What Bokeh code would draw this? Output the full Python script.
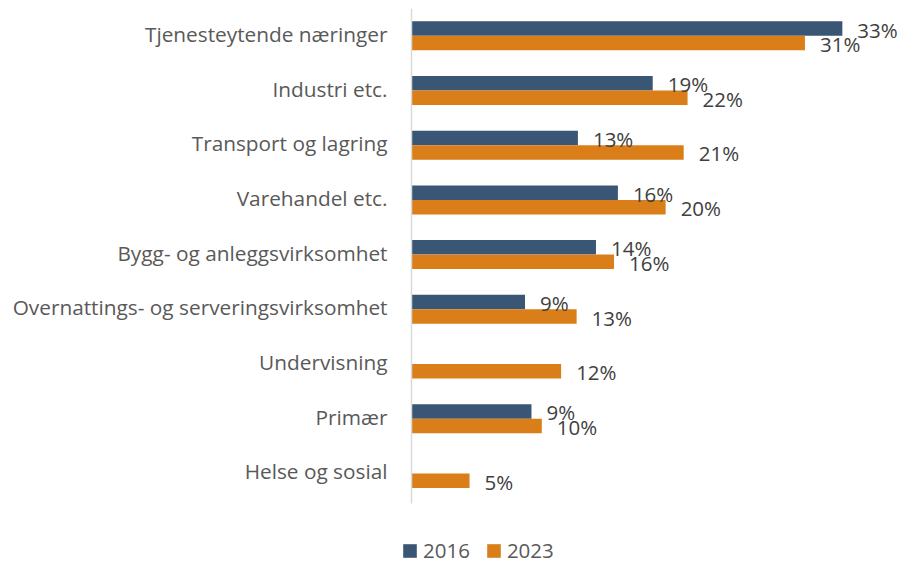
from bokeh.plotting import figure
from bokeh.models import ColumnDataSource, Range1d, Legend, LegendItem, FixedTicker
from bokeh.core.properties import value
from bokeh.embed import file_html
from bokeh.resources import INLINE

categories = ["Tjenesteytende næringer", "Industri etc.", "Transport og lagring",
              "Varehandel etc.", "Bygg- og anleggsvirksomhet",
              "Overnattings- og serveringsvirksomhet", "Undervisning", "Primær",
              "Helse og sosial"]
values_2016 = [33.4, 18.7, 12.9, 16.0, 14.3, 8.8, 0.0, 9.3, 0.0]
values_2023 = [30.5, 21.4, 21.1, 19.7, 15.7, 12.8, 11.6, 10.1, 4.5]
labels_2016 = ["33%", "19%", "13%", "16%", "14%", "9%", "", "9%", ""]
labels_2023 = ["31%", "22%", "21%", "20%", "16%", "13%", "12%", "10%", "5%"]
series = ["2016", "2023"]

C16 = "#3A5675"
C23 = "#D97E18"
FONT = "Open Sans"

n = len(categories)
idx = list(range(n))
off = 0.1325
src = ColumnDataSource(data=dict(
    y16=[i - off for i in idx], y23=[i + off for i in idx],
    v16=values_2016, v23=values_2023, l16=labels_2016, l23=labels_2023))

PX_PER_UNIT = 12.9          # pixels per percentage point
FRAME_W = 899 - 401
x_start = -10 / PX_PER_UNIT
x_end = x_start + FRAME_W / PX_PER_UNIT
ROW_PX = 54.7
FRAME_TOP = 8
FRAME_H = 565 - FRAME_TOP
y_top = -0.5 - (35.3 - 0.5 * ROW_PX - FRAME_TOP) / ROW_PX
y_bottom = y_top + FRAME_H / ROW_PX

p = figure(x_range=Range1d(x_start, x_end), y_range=Range1d(y_bottom, y_top),
           width=899, height=565, output_backend="svg", toolbar_location=None,
           min_border_left=401, min_border_right=0, min_border_top=FRAME_TOP,
           min_border_bottom=0)

r16 = p.hbar(y="y16", right="v16", left=0, height=0.265, source=src,
             fill_color=C16, line_color=None)
r23 = p.hbar(y="y23", right="v23", left=0, height=0.265, source=src,
             fill_color=C23, line_color=None)

# category axis line at x = 0 spanning the category rows
p.segment(x0=[0], x1=[0], y0=[y_top], y1=[n - 0.45], line_color="#D9D9D9", line_width=1.5)

for ycol, col, lab in (("y16", "v16", "l16"), ("y23", "v23", "l23")):
    p.text(x=col, y=ycol, text=lab, source=src,
           x_offset=15, y_offset=1, text_baseline="middle", text_align="left",
           text_font=value(FONT), text_font_size="20.5px", text_color="#404040")

p.xaxis.visible = False
p.xgrid.visible = False
p.ygrid.visible = False
p.outline_line_color = None
p.background_fill_color = "white"

# tick positions nudged up slightly so the label glyphs sit centred on their rows
tick_pos = [round(i - 0.035, 3) for i in idx]
ya = p.yaxis[0]
ya.ticker = FixedTicker(ticks=tick_pos)
ya.major_label_overrides = {t: c for t, c in zip(tick_pos, categories)}
ya.axis_line_color = None
ya.major_tick_line_color = None
ya.minor_tick_line_color = None
ya.major_tick_out = 0
ya.major_tick_in = 0
ya.major_label_standoff = 14
ya.major_label_text_font = FONT
ya.major_label_text_font_size = "20.8px"
ya.major_label_text_color = "#595959"

legend = Legend(items=[LegendItem(label=series[0], renderers=[r16]),
                       LegendItem(label=series[1], renderers=[r23])],
                orientation="horizontal", location=(0, 1),
                glyph_width=17, glyph_height=17, label_standoff=5, spacing=15,
                padding=0, margin=0, border_line_color=None, background_fill_alpha=0,
                label_text_font=FONT, label_text_font_size="20.5px",
                label_text_color="#595959")
p.add_layout(legend, "center")

open("out.html", "w").write(file_html(p, INLINE))
